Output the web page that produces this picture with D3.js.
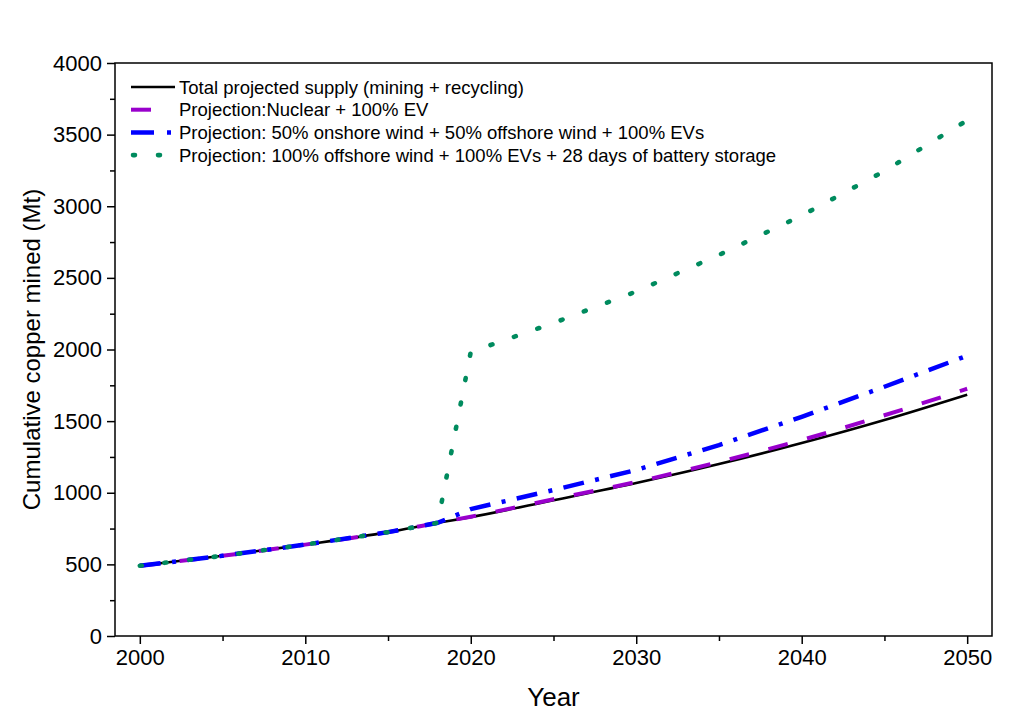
<!DOCTYPE html>
<html>
<head>
<meta charset="utf-8">
<script src="https://cdn.jsdelivr.net/npm/d3@7"></script>
<style>
  body { margin: 0; background: #fff; }
  text { font-family: "Liberation Sans", Arial, sans-serif; }
</style>
</head>
<body>
<script>
// data (Mt, cumulative)
var years = [2000, 2005, 2010, 2015, 2018, 2020, 2025, 2030, 2035, 2040, 2045, 2050]
var totalSupply = [490, 560, 638, 725, 790, 830, 948, 1068, 1200, 1347, 1508, 1685]
var nuclearEV = [490, 560, 638, 725, 790, 833, 955, 1075, 1215, 1368, 1541, 1726]
var windMixEV = [490, 560, 638, 725, 790, 886, 1019, 1159, 1333, 1530, 1740, 1957]
var offshoreBattery = [490, 560, 638, 725, 790, 1983, 2185, 2405, 2660, 2935, 3246, 3600]

var xTicks = [2000, 2010, 2020, 2030, 2040, 2050]
var xMinor = [2005, 2015, 2025, 2035, 2045]
var yTicks = [0, 500, 1000, 1500, 2000, 2500, 3000, 3500, 4000]
var yMinor = [250, 750, 1250, 1750, 2250, 2750, 3250, 3750]

var series = [
  { name: "Total projected supply (mining + recycling)", values: totalSupply, color: "#000", width: 2.6, dash: null, cap: "butt", curve: d3.curveMonotoneX },
  { name: "Projection:Nuclear + 100% EV", values: nuclearEV, color: "#9900cc", width: 4, dash: "20,20", cap: "butt", curve: d3.curveMonotoneX },
  { name: "Projection: 50% onshore wind + 50% offshore wind + 100% EVs", values: windMixEV, color: "#0000ff", width: 4.5, dash: "21,11.5,4,11.5", cap: "butt", curve: d3.curveLinear },
  { name: "Projection: 100% offshore wind + 100% EVs + 28 days of battery storage", values: offshoreBattery, color: "#008b5e", width: 4.6, dash: "2,22.8", cap: "round", curve: d3.curveLinear }
]

var W = 1024, H = 727
var mLeft = 115, mRight = 992, mTop = 63, mBottom = 636

var svg = d3.select("body").append("svg")
  .attr("width", W)
  .attr("height", H)

var x = d3.scaleLinear().domain([1998.5, 2051.5]).range([mLeft, mRight])
var y = d3.scaleLinear().domain([0, 4000]).range([mBottom, mTop])

// minor ticks
svg.append("g")
  .attr("transform", "translate(0," + mBottom + ")")
  .call(d3.axisBottom(x).tickValues(xMinor).tickSize(5).tickFormat(""))
svg.append("g")
  .attr("transform", "translate(" + mLeft + ",0)")
  .call(d3.axisLeft(y).tickValues(yMinor).tickSize(5).tickFormat(""))

// major ticks
var xAxis = svg.append("g")
  .attr("transform", "translate(0," + mBottom + ")")
  .call(d3.axisBottom(x).tickValues(xTicks).tickSize(8).tickPadding(5).tickFormat(d3.format("d")))
var yAxis = svg.append("g")
  .attr("transform", "translate(" + mLeft + ",0)")
  .call(d3.axisLeft(y).tickValues(yTicks).tickSize(8).tickPadding(5).tickFormat(d3.format("d")))

svg.selectAll(".domain").remove()
svg.selectAll(".tick line").attr("stroke", "#000").attr("stroke-width", 1.5)
xAxis.selectAll("text").attr("font-size", 22).attr("fill", "#000").attr("font-family", "Liberation Sans, Arial, sans-serif")
yAxis.selectAll("text").attr("font-size", 22).attr("fill", "#000").attr("font-family", "Liberation Sans, Arial, sans-serif")

// lines
var plot = svg.append("g")
series.forEach(function (s) {
  var line = d3.line()
    .x(function (d, i) { return x(years[i]) })
    .y(function (d) { return y(d) })
    .curve(s.curve)
  plot.append("path")
    .datum(s.values)
    .attr("d", line)
    .attr("fill", "none")
    .attr("stroke", s.color)
    .attr("stroke-width", s.width)
    .attr("stroke-dasharray", s.dash)
    .attr("stroke-linecap", s.cap)
})

// frame
svg.append("rect")
  .attr("x", mLeft).attr("y", mTop)
  .attr("width", mRight - mLeft).attr("height", mBottom - mTop)
  .attr("fill", "none")
  .attr("stroke", "#000")
  .attr("stroke-width", 1.5)

// legend
var legend = svg.append("g")
var legendSym = [[131, 175], [131, 152], [131, 172], [131, 162]]
series.forEach(function (s, i) {
  var ly = 87 + i * 22.7
  legend.append("line")
    .attr("x1", legendSym[i][0]).attr("x2", legendSym[i][1])
    .attr("y1", ly).attr("y2", ly)
    .attr("stroke", s.color)
    .attr("stroke-width", s.width)
    .attr("stroke-dasharray", i == 3 ? "2,23" : (i == 2 ? "23,13,4,20" : s.dash))
    .attr("stroke-linecap", s.cap)
    .attr("transform", i == 3 ? "translate(2,0)" : null)
  legend.append("text")
    .attr("x", 179)
    .attr("y", ly + 6.5)
    .attr("font-size", 18.5)
    .attr("fill", "#000")
    .text(s.name)
})

// axis titles
svg.append("text")
  .attr("x", (mLeft + mRight) / 2)
  .attr("y", 706)
  .attr("text-anchor", "middle")
  .attr("font-size", 26)
  .text("Year")

svg.append("text")
  .attr("transform", "translate(40," + (mTop + mBottom) / 2 + ") rotate(-90)")
  .attr("text-anchor", "middle")
  .attr("font-size", 24)
  .text("Cumulative copper mined (Mt)")
</script>
</body>
</html>
